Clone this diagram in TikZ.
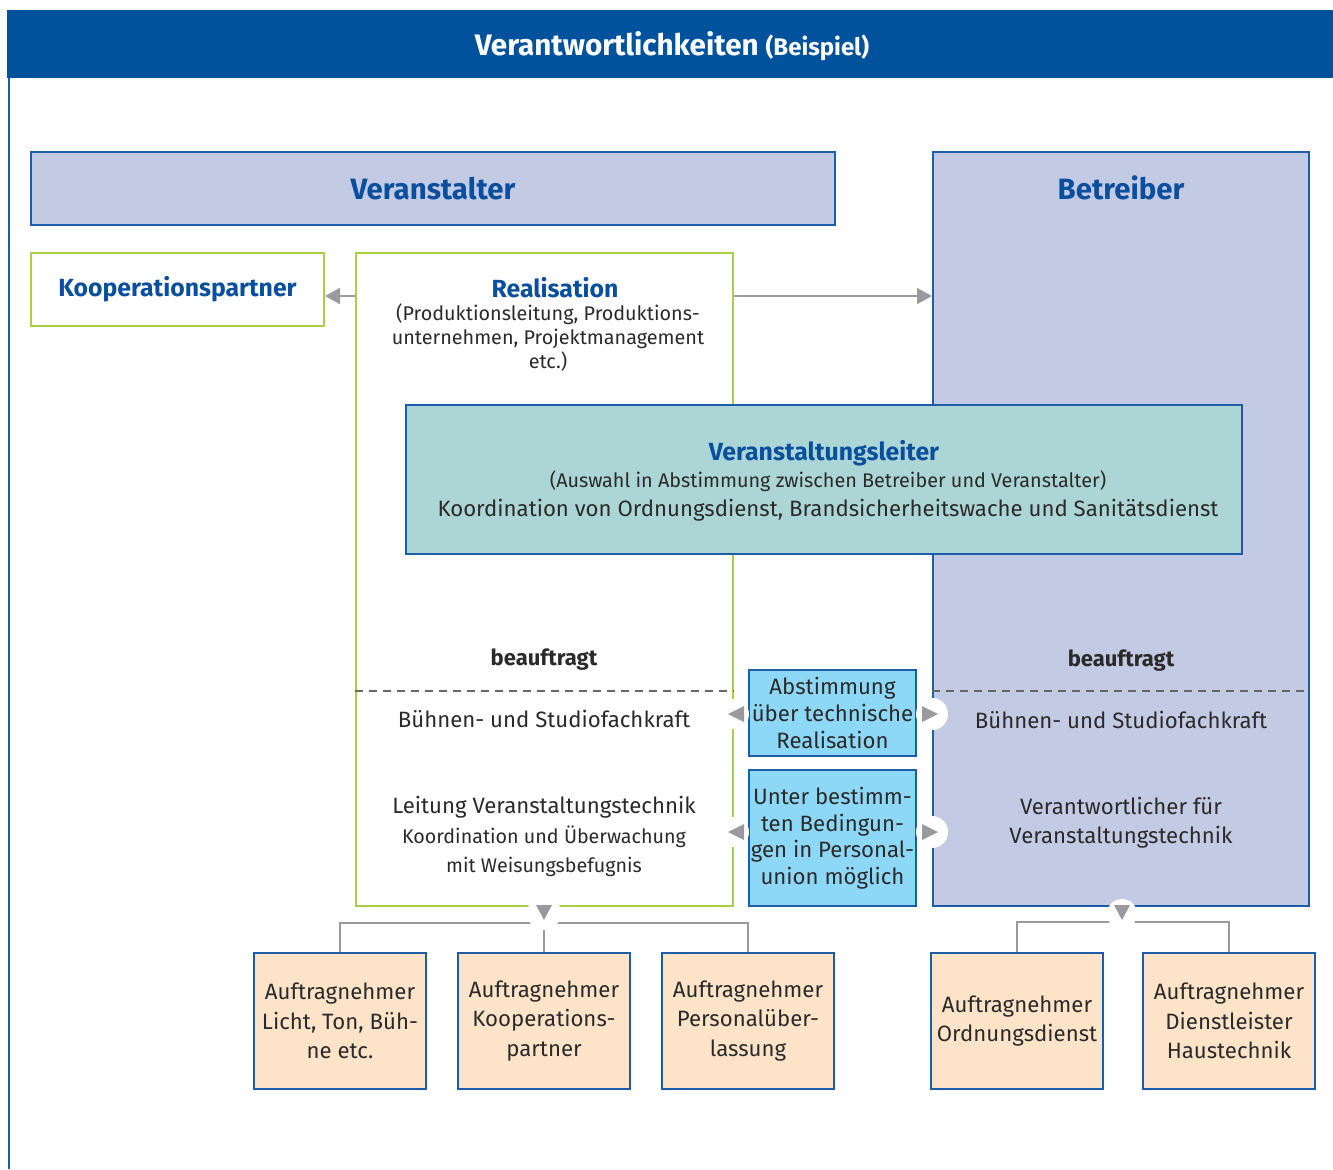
\documentclass[tikz,border=0pt]{standalone}
\usepackage{fontspec}
\setmainfont{Fira Sans}
\usetikzlibrary{arrows.meta}

\definecolor{hdrblue}{HTML}{00529C}
\definecolor{edgeblue}{HTML}{1D5DA8}
\definecolor{txtblue}{HTML}{0A4F9E}
\definecolor{lav}{HTML}{C3CAE4}
\definecolor{tealbox}{HTML}{ACD5D5}
\definecolor{sky}{HTML}{8DD7F7}
\definecolor{peach}{HTML}{FDE4C8}
\definecolor{leafgreen}{HTML}{A8CF45}
\definecolor{arrgrey}{HTML}{9A9A9E}
\definecolor{dashgrey}{HTML}{666666}
\definecolor{ink}{HTML}{2A2A2A}

% font sizes (1px = 0.5pt)
\newcommand\titlefont{\fontsize{14.8}{17}\selectfont\bfseries}
\newcommand\notefont{\fontsize{12}{14}\selectfont\bfseries}
\newcommand\assignfont{\fontsize{11}{13}\selectfont\bfseries}
\newcommand\headfont{\fontsize{14.7}{17}\selectfont\bfseries}
\newcommand\subheadfont{\fontsize{12.4}{15}\selectfont\bfseries}
\newcommand\bodyfont{\fontsize{11.1}{13.3}\selectfont}
\newcommand\smallfont{\fontsize{9.9}{12}\selectfont}

\tikzset{
  box/.style={draw=edgeblue, line width=1pt, inner sep=0pt},
  lavbox/.style={box, fill=lav},
  grnbox/.style={draw=leafgreen, line width=1pt, fill=white, inner sep=0pt},
  skybox/.style={box, fill=sky, minimum width=83.5pt, font=\bodyfont, align=center, text=ink},
  orderbox/.style={box, fill=peach, minimum width=86pt, minimum height=68pt,
    font=\fontsize{11.1}{14.7}\selectfont, align=center, text=ink},
  head/.style={font=\headfont, text=txtblue},
  subhead/.style={font=\subheadfont, text=txtblue},
  body/.style={font=\bodyfont, text=ink, align=center, inner sep=0pt},
  bodysmall/.style={font=\smallfont, text=ink, align=center, inner sep=0pt},
  arr/.style={draw=arrgrey, line width=1pt, -{Triangle[length=7.5pt,width=8pt]}},
  conn/.style={draw=arrgrey, line width=1pt},
  tri/.style={fill=arrgrey},
  gap/.style={fill=white},
  sep/.style={draw=dashgrey, line width=0.75pt, dash pattern=on 4pt off 3pt},
}

\begin{document}
\begin{tikzpicture}[x=0.5pt, y=-0.5pt]
\useasboundingbox (0,0) rectangle (1333,1169);

% header and frame
\fill[hdrblue] (7,10) rectangle (1333,78);
\draw[edgeblue, line width=1pt] (8.5,78) -- (8.5,1169);
\node[text=white, font=\titlefont] (title) at (672,46)
  {Verantwortlichkeiten {\notefont(Beispiel)}};

% main boxes
\node[lavbox, minimum width=402pt, minimum height=36.5pt] (vera) at (433,188.5)
  {\headfont\color{txtblue}Veranstalter};
\node[lavbox, minimum width=188pt, minimum height=377pt] (betr) at (1121,529) {};
\node[head] (betrtxt) at (1121,188) {Betreiber};
\node[grnbox, minimum width=146.5pt, minimum height=36.5pt, subhead] (koop) at (177.5,289.5)
  {Kooperationspartner};
\node[grnbox, minimum width=188.5pt, minimum height=326.5pt] (real) at (544.5,579.5) {};
\node[subhead] (realtxt) at (555,288) {Realisation};
\node[bodysmall] (realsub) at (548,338)
  {(Produktionsleitung, Produktions-\\unternehmen, Projektmanagement\\etc.)};

% arrows to the side
\coordinate (lvl) at (0,296);
\draw[arr] (real.west |- lvl) -- (koop.east |- lvl);
\draw[arr] (real.east |- lvl) -- (betr.west |- lvl);

% Veranstaltungsleiter
\node[box, fill=tealbox, minimum width=418pt, minimum height=74.5pt] (vl) at (824,479.5) {};
\node[subhead] (vltitle) at (824,453) {Veranstaltungsleiter};
\node[bodysmall] (vlsub) at (828,481)
  {(Auswahl in Abstimmung zwischen Betreiber und Veranstalter)};
\node[body] (vlbody) at (828,510)
  {Koordination von Ordnungsdienst, Brandsicherheitswache und Sanitätsdienst};

% left column
\node[body, font=\assignfont] (lassign) at (544,660) {beauftragt};
\draw[sep] (real.west |- 0,691) -- (real.east |- 0,691);
\node[body] (lstage) at (544,719) {Bühnen- und Studiofachkraft};
\node[body] (llead) at (544,807) {Leitung Veranstaltungstechnik};
\node[bodysmall, font=\fontsize{9.85}{14.5}\selectfont] (lleadsub) at (544,851)
  {Koordination und Überwachung\\mit Weisungsbefugnis};

% right column
\node[body, font=\assignfont] (rassign) at (1121,661) {beauftragt};
\draw[sep] (betr.west |- 0,691) -- (betr.east |- 0,691);
\node[body] (rstage) at (1121,720) {Bühnen- und Studiofachkraft};
\node[body, font=\fontsize{11.1}{14.5}\selectfont] (rlead) at (1121,822.5)
  {Verantwortlicher für\\Veranstaltungstechnik};

% middle boxes
\node[skybox, minimum height=43pt] (abst) at (832.5,713)
  {Abstimmung\\über technische\\Realisation};
\node[skybox, minimum height=68pt] (unter) at (832.5,838)
  {Unter bestimm-\\ten Bedingun-\\gen in Personal-\\union möglich};

\foreach \y in {714,832} {
  \fill[gap] (real.east |- 0,\y) circle[radius=7.5pt];
  \fill[gap] (betr.west |- 0,\y) circle[radius=8pt];
  \fill[tri] (744,\y-8) -- (728,\y) -- (744,\y+8) -- cycle;
  \fill[tri] (922,\y-8) -- (938,\y) -- (922,\y+8) -- cycle;
}

% contractors
\node[orderbox] (an1) at (340,1021) {Auftragnehmer\\Licht, Ton, Büh-\\ne etc.};
\node[orderbox] (an2) at (544,1021) {Auftragnehmer\\Kooperations-\\partner};
\node[orderbox] (an3) at (748,1021) {Auftragnehmer\\Personalüber-\\lassung};
\node[orderbox] (an4) at (1017,1021) {Auftragnehmer\\Ordnungsdienst};
\node[orderbox] (an5) at (1229,1021) {Auftragnehmer\\Dienstleister\\Haustechnik};

\draw[conn] (an1.north) |- (an3.north |- 0,923) -- (an3.north);
\draw[conn] (an2.north) -- (an2.north |- 0,923);
\fill[gap] (544,913) circle[radius=8.5pt];
\fill[tri] (536,905) -- (552,905) -- (544,920) -- cycle;

\draw[conn] (an4.north) |- (an5.north |- 0,922) -- (an5.north);
\fill[gap] (1122,914) circle[radius=7.5pt];
\fill[tri] (1114,905) -- (1130,905) -- (1122,920) -- cycle;
\end{tikzpicture}
\end{document}
